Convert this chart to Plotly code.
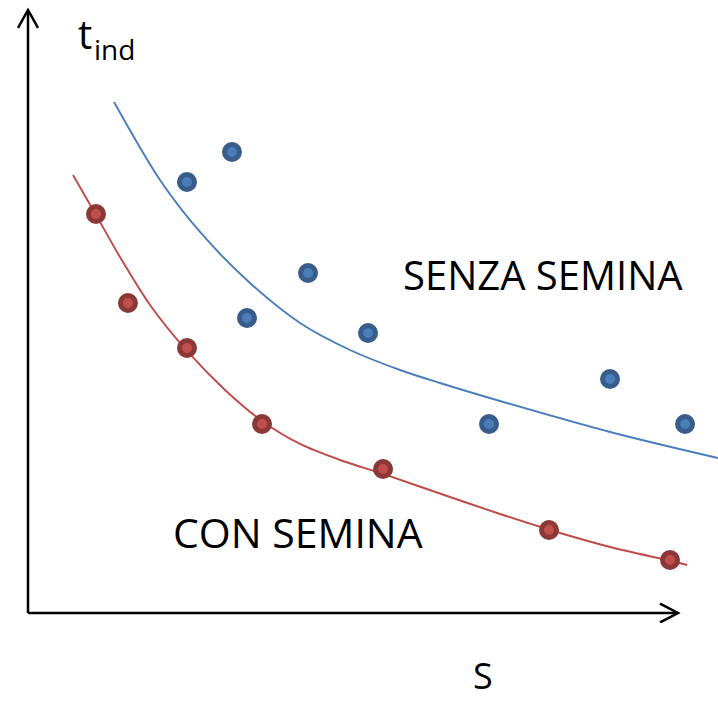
import plotly.graph_objects as go

# Data (arbitrary units)
blue_x = [2.446, 3.138, 3.369, 4.308, 5.231, 7.092, 8.954, 10.108]
blue_y = [7.183, 7.683, 4.917, 5.667, 4.667, 3.150, 3.900, 3.150]
red_x = [1.046, 1.538, 2.446, 3.600, 5.462, 8.015, 9.877]
red_y = [6.650, 5.167, 4.417, 3.150, 2.400, 1.383, 0.883]

blue_curve_x = [1.323, 2.031, 2.646, 3.415, 4.185, 4.954, 5.723, 6.338, 7.262, 8.954, 10.615]
blue_curve_y = [8.517, 7.217, 6.350, 5.500, 4.833, 4.383, 4.050, 3.833, 3.533, 3.017, 2.583]
red_curve_x = [0.692, 1.046, 1.415, 1.877, 2.446, 3.031, 3.600, 4.185, 4.800, 5.462, 6.492,
               7.262, 8.031, 8.954, 9.892, 10.138]
red_curve_y = [7.300, 6.633, 5.933, 5.133, 4.367, 3.717, 3.200, 2.817, 2.550, 2.317, 1.933,
               1.650, 1.383, 1.100, 0.867, 0.800]

label_senza = "SENZA SEMINA"
label_con = "CON SEMINA"
label_y = "t"
label_y_sub = "ind"
label_x = "S"

FONT = "Open Sans"
BLUE_LINE = "#4a7ebb"
RED_LINE = "#be4b48"

fig = go.Figure()
fig.add_trace(go.Scatter(x=blue_curve_x, y=blue_curve_y, mode="lines",
                         line=dict(color=BLUE_LINE, width=1.9, shape="spline", smoothing=0.9),
                         hoverinfo="skip"))
fig.add_trace(go.Scatter(x=red_curve_x, y=red_curve_y, mode="lines",
                         line=dict(color=RED_LINE, width=1.9, shape="spline", smoothing=0.9),
                         hoverinfo="skip"))
fig.add_trace(go.Scatter(x=blue_x, y=blue_y, mode="markers",
                         marker=dict(size=15, color="#4a7ebb", line=dict(color="#385d8a", width=5))))
fig.add_trace(go.Scatter(x=red_x, y=red_y, mode="markers",
                         marker=dict(size=15, color="#c0504d", line=dict(color="#8c3836", width=5))))

# axes with open arrow heads
AX = dict(color="black", width=2.5)
x_end = 10.0
y_end = 10.05
shapes = [
    dict(type="line", x0=0, y0=0, x1=x_end, y1=0, line=AX),
    dict(type="line", x0=0, y0=0, x1=0, y1=y_end, line=AX),
    dict(type="path", path=f"M {x_end-0.277},{0.158} L {x_end},0 L {x_end-0.277},{-0.158}", line=AX),
    dict(type="path", path=f"M -0.154,{y_end-0.3} L 0,{y_end} L 0.154,{y_end-0.3}", line=AX),
]
for s in shapes:
    s.update(xref="x", yref="y", layer="above")

annotations = [
    dict(x=7.93, y=5.64, text=label_senza, showarrow=False, xanchor="center", yanchor="middle",
         font=dict(family=FONT, size=40, color="black")),
    dict(x=4.146, y=1.35, text=label_con, showarrow=False, xanchor="center", yanchor="middle",
         font=dict(family=FONT, size=41, color="black")),
    dict(x=7.0, y=-0.0853, yref="paper", text=label_x, showarrow=False, xanchor="center",
         yanchor="middle", font=dict(family=FONT, size=36, color="black")),
    dict(x=0.74, y=9.65, text=label_y, showarrow=False, xanchor="left", yanchor="middle",
         font=dict(family=FONT, size=40, color="black")),
    dict(x=0.99, y=9.40, text=label_y_sub, showarrow=False, xanchor="left", yanchor="middle",
         font=dict(family=FONT, size=28, color="black")),
]

fig.update_layout(
    width=718, height=701,
    margin=dict(l=10, r=0, t=2, b=78),
    paper_bgcolor="white", plot_bgcolor="white",
    showlegend=False,
    shapes=shapes, annotations=annotations,
    xaxis=dict(range=[-0.277, 10.615], visible=False, fixedrange=True),
    yaxis=dict(range=[-0.1667, 10.183], visible=False, fixedrange=True),
)

fig.write_html("out.html", config={"displayModeBar": False},
               post_script="document.body.style.margin='0';document.body.style.overflow='hidden';")
